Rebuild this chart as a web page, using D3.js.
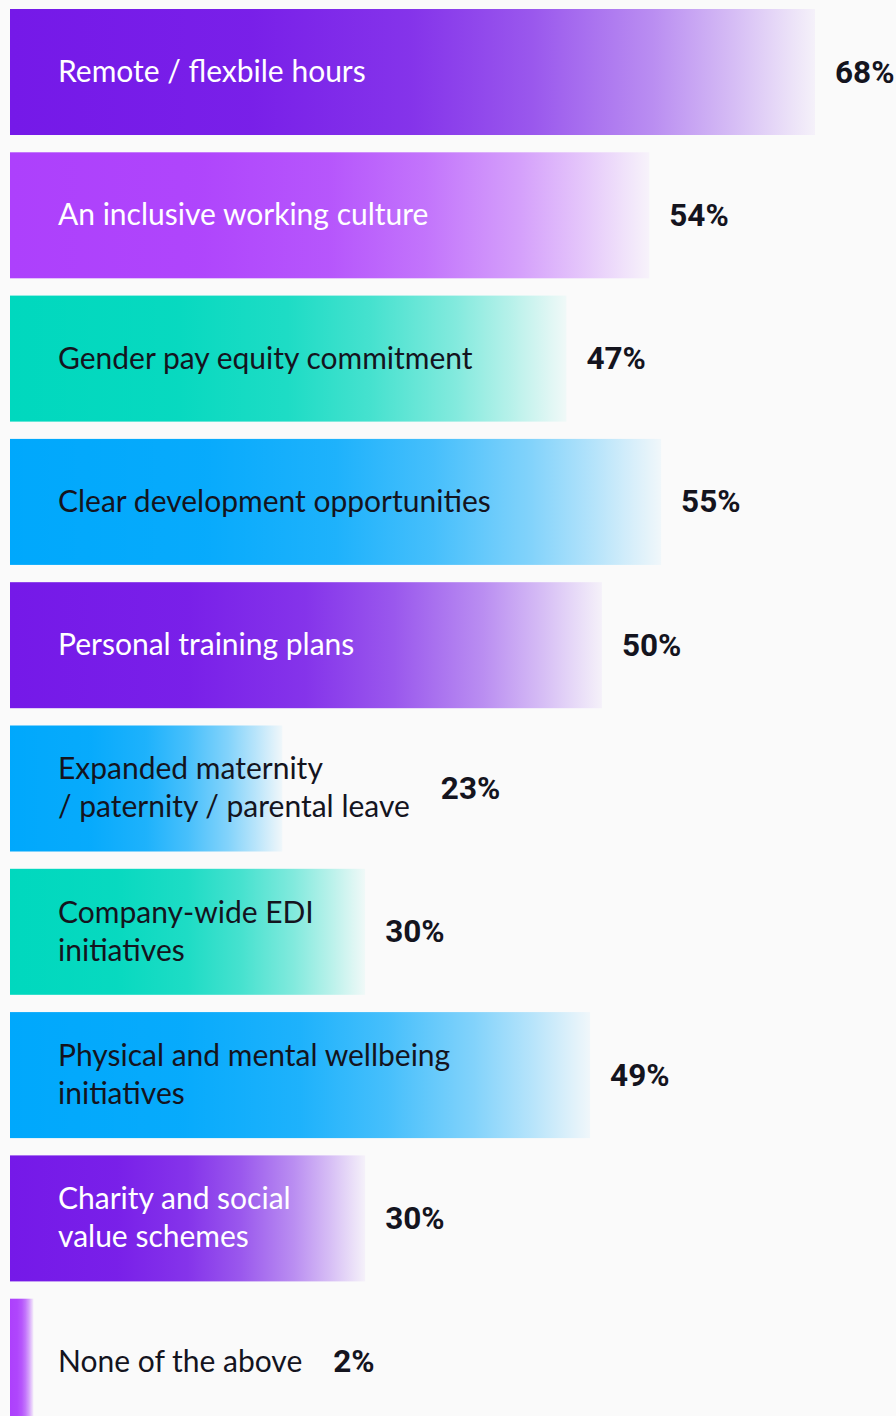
<!DOCTYPE html>
<html>
<head>
<meta charset="utf-8">
<script src="https://cdn.jsdelivr.net/npm/d3@7"></script>
<style>
  html, body { margin: 0; padding: 0; background: #fafafa; }
  svg { display: block; }
</style>
</head>
<body>
<svg id="chart" width="896" height="1416"></svg>
<script>
// Survey answers, one bar per option
const categories = [
  ["Remote / flexbile hours"],
  ["An inclusive working culture"],
  ["Gender pay equity commitment"],
  ["Clear development opportunities"],
  ["Personal training plans"],
  ["Expanded maternity", "/ paternity / parental leave"],
  ["Company-wide EDI", "initiatives"],
  ["Physical and mental wellbeing", "initiatives"],
  ["Charity and social", "value schemes"],
  ["None of the above"]
];
const values = [68, 54, 47, 55, 50, 23, 30, 49, 30, 2];
const valueLabels = ["68%", "54%", "47%", "55%", "50%", "23%", "30%", "49%", "30%", "2%"];

// Bar fill colour and label colour for each bar
const barPalette = ["#7519e8", "#ad40fc", "#00d8be", "#00a8fc", "#7519e8",
                    "#00a8fc", "#00d8be", "#00a8fc", "#7519e8", "#ad40fc"];
const textPalette = ["#ffffff", "#ffffff", "#14141e", "#14141e", "#ffffff",
                     "#14141e", "#14141e", "#14141e", "#ffffff", "#14141e"];

// Fade of each bar from solid on the left to nearly transparent at its end
const fadeStops = [[0, 1], [0.3, 0.97], [0.5, 0.88], [0.65, 0.72], [0.8, 0.48], [0.9, 0.27], [1, 0.04]];

const svg = d3.select("#chart");
const idx = d3.range(values.length);

const x = d3.scaleLinear().domain([0, 68]).range([10, 815]);
const y = d3.scaleBand().domain(idx).range([9, 1424.7]).paddingInner(0.1207).paddingOuter(0);

const defs = svg.append("defs");
idx.forEach(i => {
  const g = defs.append("linearGradient")
    .attr("id", "fade" + i)
    .attr("x1", 0).attr("x2", 1).attr("y1", 0).attr("y2", 0);
  fadeStops.forEach(([o, a]) => {
    g.append("stop").attr("offset", o)
      .attr("stop-color", barPalette[i]).attr("stop-opacity", a);
  });
});

const rows = svg.selectAll("g.row").data(idx).join("g").attr("class", "row");

rows.append("rect")
  .attr("x", x(0))
  .attr("y", i => y(i))
  .attr("width", i => x(values[i]) - x(0))
  .attr("height", y.bandwidth())
  .attr("fill", i => `url(#fade${i})`);

const labelX = 58;
const labelFont = "Lato, 'Open Sans', sans-serif";
const lineGap = 38;

const labels = rows.append("text")
  .attr("x", labelX)
  .attr("font-family", labelFont)
  .attr("font-size", 30)
  .attr("fill", i => textPalette[i]);

labels.each(function(i) {
  const lines = categories[i];
  const cy = y(i) + y.bandwidth() / 2 + 10;
  const top = cy - (lines.length - 1) * lineGap / 2;
  d3.select(this).selectAll("tspan").data(lines).join("tspan")
    .attr("x", labelX)
    .attr("y", (d, k) => top + k * lineGap)
    .text(d => d);
});

// Value sits after the bar, or after the category text when that runs past the bar
rows.append("text")
  .attr("font-family", "Roboto, 'Liberation Sans', sans-serif")
  .attr("font-weight", 700)
  .attr("font-size", 31.5)
  .attr("fill", "#14141e")
  .attr("y", i => y(i) + y.bandwidth() / 2 + 10.5)
  .attr("x", function(i) {
    const labelNode = labels.filter(j => j === i).node();
    const textEnd = labelX + labelNode.getBBox().width;
    return Math.max(x(values[i]) + 20, textEnd + 31);
  })
  .text(i => valueLabels[i]);
</script>
</body>
</html>
